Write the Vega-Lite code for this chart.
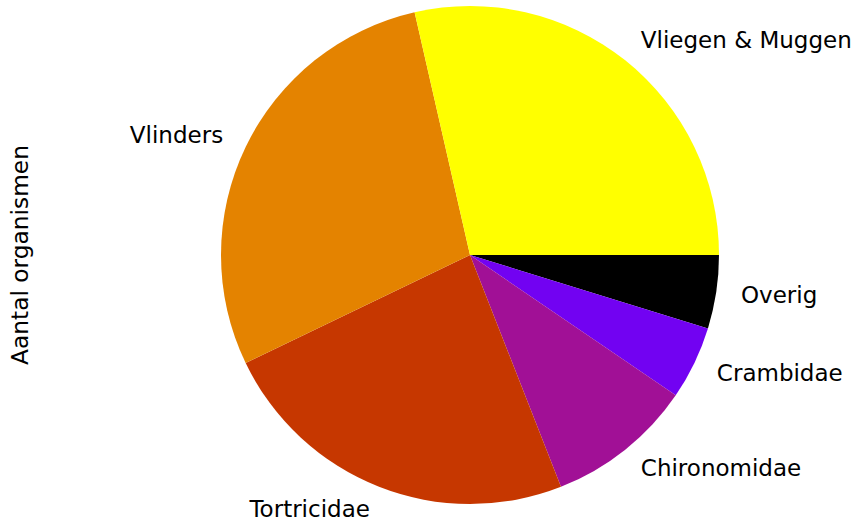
{
  "$schema": "https://vega.github.io/schema/vega-lite/v6.json",
  "autosize": {"type": "none"},
  "width": 500,
  "height": 510,
  "padding": {"left": 220, "top": 0, "right": 135, "bottom": 13},
  "background": "white",
  "title": {
    "text": "Aantal organismen",
    "orient": "left",
    "anchor": "middle",
    "font": "DejaVu Sans",
    "fontSize": 23.3,
    "fontWeight": "normal",
    "color": "#000000",
    "offset": 97
  },
  "data": {
    "values": [
      {"k": 1, "cat": "Overig", "n": 1},
      {"k": 2, "cat": "Crambidae", "n": 1},
      {"k": 3, "cat": "Chironomidae", "n": 2},
      {"k": 4, "cat": "Tortricidae", "n": 5},
      {"k": 5, "cat": "Vlinders", "n": 6},
      {"k": 6, "cat": "Vliegen & Muggen", "n": 6}
    ]
  },
  "encoding": {
    "theta": {"field": "n", "type": "quantitative", "stack": true, "scale": {"range": [1.5707963, 7.8539816]}},
    "order": {"field": "k", "type": "quantitative", "sort": "ascending"}
  },
  "layer": [
    {
      "mark": {"type": "arc", "outerRadius": 249, "stroke": null},
      "encoding": {
        "color": {
          "field": "cat",
          "type": "nominal",
          "scale": {
            "domain": ["Vliegen & Muggen", "Vlinders", "Tortricidae", "Chironomidae", "Crambidae", "Overig"],
            "range": ["#ffff00", "#e48300", "#c63700", "#a11096", "#7202f2", "#000000"]
          },
          "legend": null
        }
      }
    },
    {
      "mark": {"type": "text", "radius": 274, "align": "left", "baseline": "middle", "font": "DejaVu Sans", "fontSize": 23, "color": "#000000"},
      "encoding": {
        "text": {"condition": {"test": "datum.cat != 'Vlinders' && datum.cat != 'Tortricidae'", "field": "cat"}, "value": ""}
      }
    },
    {
      "mark": {"type": "text", "radius": 274, "align": "right", "baseline": "middle", "font": "DejaVu Sans", "fontSize": 23, "color": "#000000"},
      "encoding": {
        "text": {"condition": {"test": "datum.cat == 'Vlinders' || datum.cat == 'Tortricidae'", "field": "cat"}, "value": ""}
      }
    }
  ]
}
